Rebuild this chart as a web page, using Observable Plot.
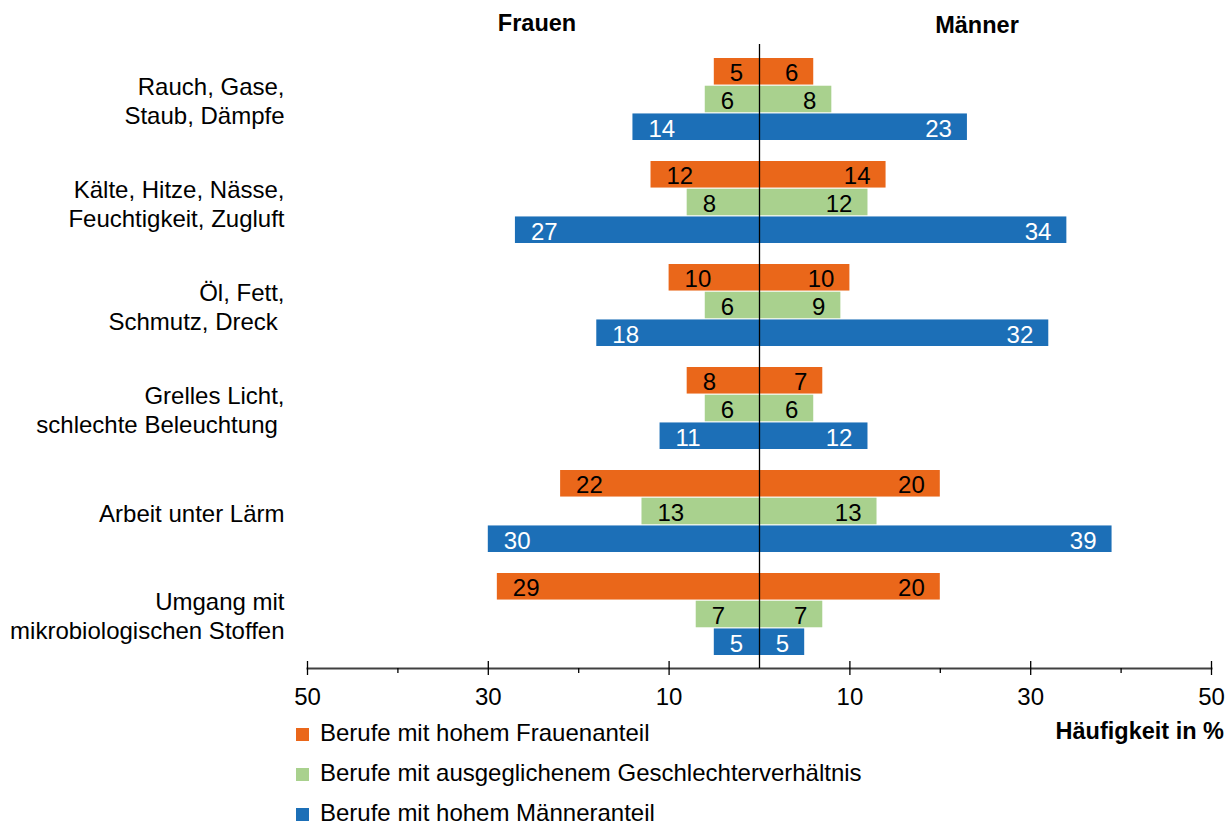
<!DOCTYPE html>
<html>
<head>
<meta charset="utf-8">
<script src="https://cdn.jsdelivr.net/npm/d3@7"></script>
<script src="https://cdn.jsdelivr.net/npm/@observablehq/plot@0.6"></script>
<style>
  html, body { margin: 0; padding: 0; background: #fff; }
  body { font-family: "Liberation Sans", Arial, sans-serif; color: #000; }
  #wrap { position: relative; width: 1227px; height: 825px; overflow: hidden; }
  #chart { position: absolute; left: 0; top: 0; }
  .hdr { position: absolute; font-weight: bold; font-size: 23.5px; line-height: 23.5px; white-space: nowrap; }
  .legrow { position: absolute; left: 0; font-size: 24px; line-height: 24px; white-space: nowrap; }
  .legsw { position: absolute; width: 13px; height: 13px; }
</style>
</head>
<body>
<div id="wrap">
  <div id="chart"></div>
</div>
<script>
// ---- data ----
const categories = [
  "Rauch, Gase,\nStaub, Dämpfe",
  "Kälte, Hitze, Nässe,\nFeuchtigkeit, Zugluft",
  "Öl, Fett,\nSchmutz, Dreck\u00a0",
  "Grelles Licht,\nschlechte Beleuchtung\u00a0",
  "Arbeit unter Lärm",
  "Umgang mit\nmikrobiologischen Stoffen"
];
const seriesNames = [
  "Berufe mit hohem Frauenanteil",
  "Berufe mit ausgeglichenem Geschlechterverhältnis",
  "Berufe mit hohem Männeranteil"
];
const seriesColors = ["#EA671A", "#A9D18E", "#1C6FB7"];
const labelColors = ["#000000", "#000000", "#ffffff"];

// Frauen (left side)
const frauenHochFrauen = [5, 12, 10, 8, 22, 29];
const frauenAusgeglichen = [6, 8, 6, 6, 13, 7];
const frauenHochMaenner = [14, 27, 18, 11, 30, 5];
// Männer (right side)
const maennerHochFrauen = [6, 14, 10, 7, 20, 20];
const maennerAusgeglichen = [8, 12, 9, 6, 13, 7];
const maennerHochMaenner = [23, 34, 32, 12, 39, 5];

const majorTicks = [-50, -30, -10, 10, 30, 50];
const minorTicks = [-40, -20, 20, 40];
const sides = ["Frauen", "Männer"];
const axisTitle = "Häufigkeit in %";

// ---- build table ----
const valuesBySide = {
  Frauen: [frauenHochFrauen, frauenAusgeglichen, frauenHochMaenner],
  "Männer": [maennerHochFrauen, maennerAusgeglichen, maennerHochMaenner]
};
const rows = [];
for (const side of sides) {
  valuesBySide[side].forEach((arr, s) => {
    arr.forEach((v, i) => rows.push({cat: categories[i], s, side, value: v, signed: side === "Frauen" ? -v : v}));
  });
}

// ---- layout ----
const W = 1227, H = 712;
const mTop = 44, mBottom = 44, mLeft = 307, mRight = 16;
const yInsetTop = 11, yInsetBottom = 10;
const padInner = 0.2;
const yRange = (H - mBottom - yInsetBottom) - (mTop + yInsetTop);
const step = yRange / (categories.length - padInner);
const bandW = step * (1 - padInner);
const sub = bandW / 3;

const marks = [];
seriesNames.forEach((name, s) => {
  const data = rows.filter(d => d.s === s);
  marks.push(Plot.barX(data, {
    y: "cat", x1: 0, x2: "signed",
    fill: seriesColors[s],
    insetTop: s * sub, insetBottom: (2 - s) * sub
  }));
});
seriesNames.forEach((name, s) => {
  for (const side of sides) {
    const data = rows.filter(d => d.s === s && d.side === side);
    marks.push(Plot.text(data, {
      y: "cat", x: "signed", text: d => String(d.value),
      textAnchor: side === "Frauen" ? "start" : "end",
      dx: side === "Frauen" ? 15.5 : -15.5,
      dy: (s - 1) * sub + 2,
      fill: labelColors[s], fontSize: 24
    }));
  }
});
// category labels
marks.push(Plot.text(categories, {
  y: d => d, text: d => d, frameAnchor: "left", textAnchor: "end",
  dx: -23, dy: 1, lineHeight: 1.18, fontSize: 24, fill: "#000"
}));
// axis line
marks.push(Plot.frame({anchor: "bottom", stroke: "#404040", strokeWidth: 2}));
// major ticks (above + below)
marks.push(Plot.axisX({ticks: majorTicks, tickSize: 14, dy: -7, tickFormat: () => "", label: null, stroke: "#000", strokeWidth: 1.3}));
// minor ticks (below)
marks.push(Plot.axisX({ticks: minorTicks, tickSize: 5, tickFormat: () => "", label: null, stroke: "#000", strokeWidth: 1.3}));
// tick labels
marks.push(Plot.axisX({ticks: majorTicks, tickSize: 0, tickPadding: 19, tickFormat: d => String(Math.abs(d)), label: null, fontSize: 24, fill: "#000", stroke: "none"}));
// center line
marks.push(Plot.ruleX([0], {stroke: "#000", strokeWidth: 1.3}));

const plot = Plot.plot({
  width: W, height: H,
  marginTop: mTop, marginBottom: mBottom, marginLeft: mLeft, marginRight: mRight,
  style: {fontFamily: "'Liberation Sans', Arial, sans-serif", fontSize: "24px", background: "transparent", overflow: "visible", color: "#000"},
  x: {domain: [-50, 50], axis: null},
  y: {domain: categories, paddingInner: padInner, paddingOuter: 0, insetTop: yInsetTop, insetBottom: yInsetBottom, axis: null},
  marks
});
document.getElementById("chart").appendChild(plot);

// ---- HTML header, axis title, legend ----
const wrap = document.getElementById("wrap");
function addDiv(cls, text, css) {
  const d = document.createElement("div");
  d.className = cls;
  d.textContent = text;
  Object.assign(d.style, css);
  wrap.appendChild(d);
  return d;
}
addDiv("hdr", sides[0], {left: "537px", top: "11.8px", transform: "translateX(-50%)"});
addDiv("hdr", sides[1], {left: "977px", top: "14px", transform: "translateX(-50%)"});
addDiv("hdr", axisTitle, {right: "3px", top: "720px"});
seriesNames.forEach((name, i) => {
  const sw = document.createElement("div");
  sw.className = "legsw";
  Object.assign(sw.style, {left: "296px", top: (727.7 + 40 * i) + "px", background: seriesColors[i]});
  wrap.appendChild(sw);
  addDiv("legrow", name, {left: "320px", top: (721.4 + 40 * i) + "px"});
});
</script>
</body>
</html>
